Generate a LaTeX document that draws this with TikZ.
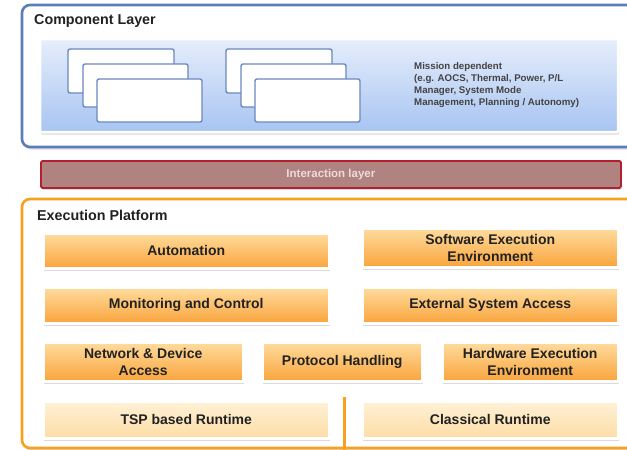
\documentclass[tikz,border=0pt]{standalone}
\usepackage{fontspec}
\setmainfont{Liberation Sans}
\usetikzlibrary{shadows}
\definecolor{compblue}{HTML}{5B7DB8}
\definecolor{panelTop}{HTML}{E6EEFB}
\definecolor{panelBot}{HTML}{A7C4F2}
\definecolor{cardBorder}{HTML}{6B88BF}
\definecolor{interFill}{HTML}{B08280}
\definecolor{interBorder}{HTML}{B21F2E}
\definecolor{interText}{HTML}{ECDCDC}
\definecolor{execOrange}{HTML}{F7A11E}
\definecolor{boxTop}{HTML}{FFDC9E}
\definecolor{boxBot}{HTML}{F9A43C}
\definecolor{paleTop}{HTML}{FFF1D6}
\definecolor{paleBot}{HTML}{FDDDA6}
\definecolor{txt}{HTML}{222222}
\tikzset{
  x=1pt, y=-1pt,
  softshadow/.style={drop shadow={opacity=0.28, shadow xshift=1.2pt, shadow yshift=-2.5pt}},
  layerbox/.style={rounded corners=8pt, line width=2.6pt, fill=white, softshadow},
  card/.style={draw=cardBorder, line width=1.4pt, fill=white, rounded corners=2pt},
  funcbox/.style={draw=white, line width=2.5pt, top color=boxTop, bottom color=boxBot,
    softshadow, text=txt, font=\fontsize{14}{17}\selectfont\bfseries, align=center,
    inner sep=0pt},
  runbox/.style={funcbox, top color=paleTop, bottom color=paleBot},
  title/.style={anchor=west, font=\fontsize{14.3}{16}\selectfont\bfseries, text=txt, inner sep=0pt},
}
\begin{document}
\begin{tikzpicture}
\useasboundingbox (0,0) rectangle (627,450);
\clip (0,0) rectangle (627,450);
\fill[white] (0,0) rectangle (627,450);

% Component layer
\path[layerbox, draw=compblue] (22,5) rectangle (700,147);
\node[title] (comptitle) at (34,21) {Component Layer};
\path[draw=white, line width=2.5pt, top color=panelTop, bottom color=panelBot,
  rounded corners=1pt, softshadow] (40,39) rectangle (618,132);

% stacked cards
\foreach \dx in {0,158}{
  \path[card] (68+\dx,49) rectangle (174+\dx,93);
  \path[card] (83+\dx,64) rectangle (188+\dx,107);
  \path[card] (97+\dx,79) rectangle (202+\dx,122);
}
\node[anchor=west, align=left, inner sep=0pt, text=txt!85,
  font=\fontsize{9.7}{12}\selectfont\bfseries] (mission) at (414,85)
  {Mission dependent\\(e.g. AOCS, Thermal, Power, P/L\\Manager, System Mode\\Management, Planning / Autonomy)};

% Interaction layer
\node[draw=interBorder, fill=interFill, line width=1.8pt, rounded corners=1.5pt,
  minimum width=580pt, minimum height=27pt, anchor=north west, inner sep=0pt,
  text=interText, font=\fontsize{11.5}{13}\selectfont\bfseries,
  drop shadow={opacity=0.28, shadow xshift=1pt, shadow yshift=-2pt}]
  (inter) at (40,160) {Interaction layer};

% Execution platform
\path[layerbox, draw=execOrange] (22,199) rectangle (700,448);
\node[title] (exectitle) at (37,215) {Execution Platform};

\node[funcbox, minimum width=286pt, minimum height=35pt, anchor=north west] (auto) at (42,232) {Automation};
\node[funcbox, minimum width=256pt, minimum height=39pt, anchor=north west] (swe) at (361,227) {Software Execution\\Environment};
\node[funcbox, minimum width=286pt, minimum height=36pt, anchor=north west] (mc) at (42,286) {Monitoring and Control};
\node[funcbox, minimum width=256pt, minimum height=36pt, anchor=north west] (esa) at (361,286) {External System Access};
\node[funcbox, minimum width=200pt, minimum height=39pt, anchor=north west] (nda) at (42,341) {Network \& Device\\Access};
\node[funcbox, minimum width=160pt, minimum height=39pt, anchor=north west] (ph) at (261,341) {Protocol Handling};
\node[funcbox, minimum width=176pt, minimum height=39pt, anchor=north west] (hwe) at (441,341) {Hardware Execution\\Environment};
\node[runbox, minimum width=286pt, minimum height=37pt, anchor=north west] (tsp) at (42,400) {TSP based Runtime};
\node[runbox, minimum width=256pt, minimum height=37pt, anchor=north west] (cls) at (361,400) {Classical Runtime};

\coordinate (divtop) at (344.5,397);
\coordinate (divbot) at (344.5,452);
\draw[execOrange, line width=2.6pt] (divtop) -- (divbot);
\end{tikzpicture}
\end{document}
